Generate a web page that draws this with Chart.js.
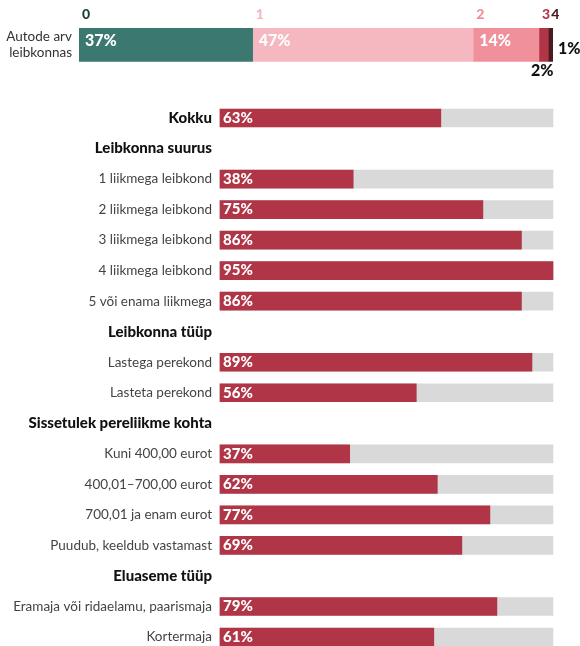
<!DOCTYPE html>
<html lang="et">
<head>
<meta charset="utf-8">
<script src="https://cdn.jsdelivr.net/npm/chart.js@4.4.1/dist/chart.umd.min.js"></script>
<style>
  html, body { margin: 0; padding: 0; background: #fff; overflow: hidden; }
  #wrap { position: relative; width: 580px; height: 646px; }
  #carsBox { position: absolute; left: 0; top: 0; width: 580px; height: 85px; }
  #shareBox { position: absolute; left: 0; top: 85px; width: 580px; height: 561px; }
</style>
</head>
<body>
<div id="wrap">
  <div id="carsBox"><canvas id="carsChart"></canvas></div>
  <div id="shareBox"><canvas id="shareChart"></canvas></div>
</div>
<script>
// Cars per household
const carCounts = ['0', '1', '2', '3', '4'];
const carShares = [37, 47, 14, 2, 1];
const carColors = ['#3b786f', '#f5b7c0', '#ef909b', '#b03647', '#4d1a24'];
const carNumberColors = ['#1e3e38', '#f5b7c0', '#ef909b', '#b03647', '#4d1a24'];

// Share of households by group
const rowLabels = [
    'Kokku',
    'Leibkonna suurus',
    '1 liikmega leibkond',
    '2 liikmega leibkond',
    '3 liikmega leibkond',
    '4 liikmega leibkond',
    '5 või enama liikmega',
    'Leibkonna tüüp',
    'Lastega perekond',
    'Lasteta perekond',
    'Sissetulek pereliikme kohta',
    'Kuni 400,00 eurot',
    '400,01–700,00 eurot',
    '700,01 ja enam eurot',
    'Puudub, keeldub vastamast',
    'Eluaseme tüüp',
    'Eramaja või ridaelamu, paarismaja',
    'Kortermaja'
];
const rowShares = [63, null, 38, 75, 86, 95, 86, null, 89, 56, null, 37, 62, 77, 69, null, 79, 61];
const boldRows = ['Kokku', 'Leibkonna suurus', 'Leibkonna tüüp', 'Sissetulek pereliikme kohta', 'Eluaseme tüüp'];

const FONT = 'Lato, "DejaVu Sans", sans-serif';
const RED = '#b03647';
const TRACK = '#d9d9d9';

Chart.defaults.font.family = FONT;
Chart.defaults.animation = false;

// labels for the stacked car bar: count above each segment, share inside or next to it
const carLabels = {
    id: 'carLabels',
    afterDatasetsDraw(chart) {
        const c = chart.ctx;
        c.save();
        c.textBaseline = 'middle';
        chart.data.datasets.forEach((ds, i) => {
            const bar = chart.getDatasetMeta(i).data[0];
            const left = bar.base;
            const top = bar.y - bar.height / 2;
            c.font = '900 14px ' + FONT;
            c.fillStyle = carNumberColors[i];
            c.textAlign = 'left';
            c.fillText(carCounts[i], left + 3, top - 13);

            c.font = '900 16px ' + FONT;
            const txt = ds.data[0] + '%';
            if (i < 3) {
                c.fillStyle = '#fff';
                c.fillText(txt, left + 6, bar.y - 4);
            } else if (i === 3) {
                c.fillStyle = '#111';
                c.textAlign = 'center';
                c.fillText(txt, bar.x - 6, top + bar.height + 9);
            } else {
                c.fillStyle = '#111';
                c.fillText(txt, bar.x + 5, bar.y + 4);
            }
        });
        c.restore();
    }
};

new Chart(document.getElementById('carsChart'), {
    type: 'bar',
    data: {
        labels: [['Autode arv', 'leibkonnas']],
        datasets: carShares.map((v, i) => ({
            label: carCounts[i],
            data: [v],
            backgroundColor: carColors[i],
            barThickness: 34,
            stack: 'cars'
        }))
    },
    options: {
        indexAxis: 'y',
        responsive: true,
        maintainAspectRatio: false,
        layout: { padding: { top: 28, bottom: 23, right: 27 } },
        scales: {
            x: {
                stacked: true,
                display: false,
                min: 0,
                max: carShares.reduce((a, b) => a + b, 0)
            },
            y: {
                stacked: true,
                grid: { display: false, drawTicks: false },
                border: { display: false },
                ticks: { color: '#333', font: { size: 13.5 }, padding: 7 },
                afterFit(scale) { scale.width = 79; }
            }
        },
        plugins: { legend: { display: false }, tooltip: { enabled: false } }
    },
    plugins: [carLabels]
});

// percentage text at the start of each red bar
const shareLabels = {
    id: 'shareLabels',
    afterDatasetsDraw(chart) {
        const c = chart.ctx;
        const meta = chart.getDatasetMeta(0);
        c.save();
        c.font = '900 15px ' + FONT;
        c.fillStyle = '#fff';
        c.textAlign = 'left';
        c.textBaseline = 'middle';
        meta.data.forEach((bar, i) => {
            if (rowShares[i] === null) return;
            c.fillText(rowShares[i] + '%', bar.base + 3, bar.y);
        });
        c.restore();
    }
};

const scaleMax = Math.max(...rowShares.filter(v => v !== null));

new Chart(document.getElementById('shareChart'), {
    type: 'bar',
    data: {
        labels: rowLabels,
        datasets: [
            {
                data: rowShares,
                backgroundColor: RED,
                barThickness: 18,
                grouped: false,
                clip: false
            },
            {
                data: rowShares.map(v => (v === null ? null : scaleMax)),
                backgroundColor: TRACK,
                barThickness: 18,
                grouped: false,
                clip: false
            }
        ]
    },
    options: {
        indexAxis: 'y',
        responsive: true,
        maintainAspectRatio: false,
        layout: { padding: { top: 33, bottom: 9, right: 27 } },
        scales: {
            x: { display: false, min: 0, max: scaleMax },
            y: {
                offset: false,
                grid: { display: false, drawTicks: false },
                border: { display: false },
                ticks: {
                    padding: 8,
                    autoSkip: false,
                    color: ctx => (boldRows.includes(rowLabels[ctx.index]) ? '#111' : '#444'),
                    font: ctx => (boldRows.includes(rowLabels[ctx.index])
                        ? { size: 15, weight: '900' }
                        : { size: 13.5 })
                },
                afterFit(scale) {
                    scale.width = 220;
                    // rows sit exactly on the chart area edges; no extra room for labels
                    scale.paddingTop = 0;
                    scale.paddingBottom = 0;
                }
            }
        },
        plugins: { legend: { display: false }, tooltip: { enabled: false } }
    },
    plugins: [shareLabels]
});
</script>
</body>
</html>
